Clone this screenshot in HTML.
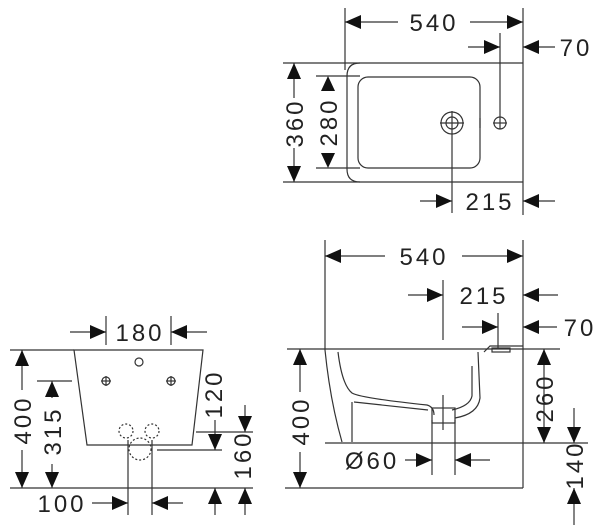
<!DOCTYPE html>
<html><head><meta charset="utf-8"><style>
html,body{margin:0;padding:0;background:#fff;}
svg{display:block;}
text{font-family:"Liberation Sans",sans-serif;font-size:24px;fill:#222;letter-spacing:3px;}
</style></head><body>
<svg width="600" height="525" viewBox="0 0 600 525" xmlns="http://www.w3.org/2000/svg">
<g stroke="#333" stroke-width="1.2" fill="none">
<line x1="345" y1="8" x2="345" y2="70"/>
<line x1="523" y1="8" x2="523" y2="215"/>
<line x1="345" y1="22" x2="398" y2="22"/><line x1="470" y1="22" x2="523" y2="22"/>
<line x1="283" y1="63" x2="523" y2="63"/><line x1="283" y1="182" x2="523" y2="182"/>
<path d="M360 63 Q347 63 347 76 L347 169 Q347 182 360 182"/>
<rect x="358" y="77" width="122" height="91" rx="10"/>
<circle cx="452" cy="123" r="11"/><circle cx="452" cy="123" r="6"/>
<line x1="440" y1="123" x2="464" y2="123"/><line x1="452" y1="111" x2="452" y2="213"/>
<circle cx="500" cy="123" r="6"/><line x1="493" y1="123" x2="507" y2="123"/>
<line x1="500" y1="33" x2="500" y2="129"/><line x1="480" y1="118" x2="480" y2="128"/>
<line x1="468" y1="47" x2="500" y2="47"/><line x1="523" y1="47" x2="555" y2="47"/>
<line x1="420" y1="201" x2="452" y2="201"/><line x1="523" y1="201" x2="555" y2="201"/>
<line x1="294" y1="63" x2="294" y2="98"/><line x1="294" y1="148" x2="294" y2="182"/>
<line x1="316" y1="76" x2="360" y2="76"/><line x1="316" y1="168" x2="360" y2="168"/>
<line x1="325" y1="240" x2="325" y2="350"/>
<line x1="523" y1="240" x2="523" y2="488"/>
<line x1="325" y1="256" x2="385" y2="256"/><line x1="462" y1="256" x2="523" y2="256"/>
<line x1="443" y1="280" x2="443" y2="340"/>
<line x1="408" y1="295" x2="443" y2="295"/><line x1="523" y1="295" x2="558" y2="295"/>
<line x1="498" y1="313" x2="498" y2="348"/>
<line x1="462" y1="327" x2="498" y2="327"/><line x1="523" y1="327" x2="557" y2="327"/>
<line x1="287" y1="349" x2="560" y2="349"/>
<line x1="285" y1="488" x2="523" y2="488"/>
<line x1="523" y1="443" x2="588" y2="443"/>
<line x1="325" y1="443" x2="523" y2="443"/>
<path d="M325 350 Q330 400 342 442"/>
<path d="M338 352 Q342 385 352 393 Q360 398 427 405 Q434 407 434 415"/>
<path d="M352 402 L352 442"/><path d="M354 402 L428 410"/>
<rect x="432" y="408" width="23" height="15"/>
<path d="M478 352 L480 398 Q478 414 455 418"/>
<path d="M472 366 L472 396 Q470 406 452 410"/>
<path d="M484 352 L490 346 L523 346"/>
<rect x="492" y="348" width="18" height="4"/>
<line x1="443" y1="395" x2="443" y2="430"/>
<line x1="432" y1="420" x2="432" y2="475"/><line x1="455" y1="420" x2="455" y2="475"/>
<line x1="405" y1="460" x2="432" y2="460"/><line x1="455" y1="460" x2="490" y2="460"/>
<line x1="300" y1="349" x2="300" y2="392"/><line x1="300" y1="452" x2="300" y2="488"/>
<line x1="544" y1="349" x2="544" y2="443"/>
<line x1="574" y1="408" x2="574" y2="443"/><line x1="574" y1="488" x2="574" y2="525"/>
<path d="M74 350 L203 350 L192 445 L87 445 Z"/>
<circle cx="139" cy="362" r="4"/>
<circle cx="106" cy="381" r="4"/><line x1="101" y1="381" x2="111" y2="381"/><line x1="106" y1="376" x2="106" y2="386"/>
<circle cx="171" cy="381" r="4"/><line x1="166" y1="381" x2="176" y2="381"/><line x1="171" y1="376" x2="171" y2="386"/>
<g stroke-dasharray="2 2"><circle cx="126" cy="431" r="7"/><circle cx="152" cy="431" r="7"/><circle cx="140" cy="449" r="11"/></g>
<line x1="106" y1="316" x2="106" y2="345"/><line x1="171" y1="316" x2="171" y2="345"/>
<line x1="70" y1="332" x2="106" y2="332"/><line x1="171" y1="332" x2="207" y2="332"/>
<line x1="10" y1="350" x2="74" y2="350"/><line x1="10" y1="488" x2="253" y2="488"/>
<line x1="37" y1="381" x2="72" y2="381"/>
<line x1="196" y1="432" x2="253" y2="432"/><line x1="157" y1="450" x2="222" y2="450"/>
<line x1="22" y1="350" x2="22" y2="390"/><line x1="22" y1="450" x2="22" y2="488"/>
<line x1="52" y1="381" x2="52" y2="398"/><line x1="52" y1="464" x2="52" y2="488"/>
<line x1="215" y1="420" x2="215" y2="450"/><line x1="215" y1="488" x2="215" y2="515"/>
<line x1="245" y1="405" x2="245" y2="432"/><line x1="245" y1="488" x2="245" y2="515"/>
<line x1="128" y1="440" x2="128" y2="515"/><line x1="152" y1="440" x2="152" y2="515"/>
<line x1="92" y1="503" x2="128" y2="503"/><line x1="152" y1="503" x2="183" y2="503"/>
</g>
<g fill="#111">
<polygon points="345,22 361,15 361,29"/><polygon points="523,22 507,15 507,29"/>
<polygon points="500,47 484,40 484,54"/><polygon points="523,47 539,40 539,54"/>
<polygon points="452,201 436,194 436,208"/><polygon points="523,201 539,194 539,208"/>
<polygon points="294,63 287,79 301,79"/><polygon points="294,182 287,166 301,166"/>
<polygon points="328,76 321,91 335,91"/><polygon points="328,168 321,153 335,153"/>
<polygon points="325,256 341,249 341,263"/><polygon points="523,256 507,249 507,263"/>
<polygon points="443,295 427,288 427,302"/><polygon points="523,295 539,288 539,302"/>
<polygon points="498,327 482,320 482,334"/><polygon points="523,327 539,320 539,334"/>
<polygon points="300,349 293,365 307,365"/><polygon points="300,488 293,472 307,472"/>
<polygon points="544,349 537,365 551,365"/><polygon points="544,443 537,427 551,427"/>
<polygon points="574,443 567,427 581,427"/><polygon points="574,488 567,504 581,504"/>
<polygon points="432,460 416,453 416,467"/><polygon points="455,460 471,453 471,467"/>
<polygon points="106,332 90,325 90,339"/><polygon points="171,332 187,325 187,339"/>
<polygon points="22,350 15,366 29,366"/><polygon points="22,488 15,472 29,472"/>
<polygon points="52,381 45,397 59,397"/><polygon points="52,488 45,472 59,472"/>
<polygon points="215,450 208,434 222,434"/><polygon points="215,488 208,504 222,504"/>
<polygon points="245,432 238,416 252,416"/><polygon points="245,488 238,504 252,504"/>
<polygon points="128,503 112,496 112,510"/><polygon points="152,503 168,496 168,510"/>
</g>
<text x="434" y="31" text-anchor="middle">540</text>
<text x="576" y="56" text-anchor="middle">70</text>
<text x="490" y="210" text-anchor="middle">215</text>
<text transform="translate(303,123) rotate(-90)" text-anchor="middle">360</text>
<text transform="translate(337,122) rotate(-90)" text-anchor="middle">280</text>
<text x="424" y="265" text-anchor="middle">540</text>
<text x="484" y="304" text-anchor="middle">215</text>
<text x="580" y="336" text-anchor="middle">70</text>
<text transform="translate(309,421) rotate(-90)" text-anchor="middle">400</text>
<text transform="translate(553,398) rotate(-90)" text-anchor="middle">260</text>
<text transform="translate(583,465) rotate(-90)" text-anchor="middle">140</text>
<text x="372" y="469" text-anchor="middle">Ø60</text>
<text x="140" y="341" text-anchor="middle">180</text>
<text transform="translate(31,420) rotate(-90)" text-anchor="middle">400</text>
<text transform="translate(61,431) rotate(-90)" text-anchor="middle">315</text>
<text transform="translate(222,394) rotate(-90)" text-anchor="middle">120</text>
<text transform="translate(251,455) rotate(-90)" text-anchor="middle">160</text>
<text x="62" y="512" text-anchor="middle">100</text>
</svg>
</body></html>
